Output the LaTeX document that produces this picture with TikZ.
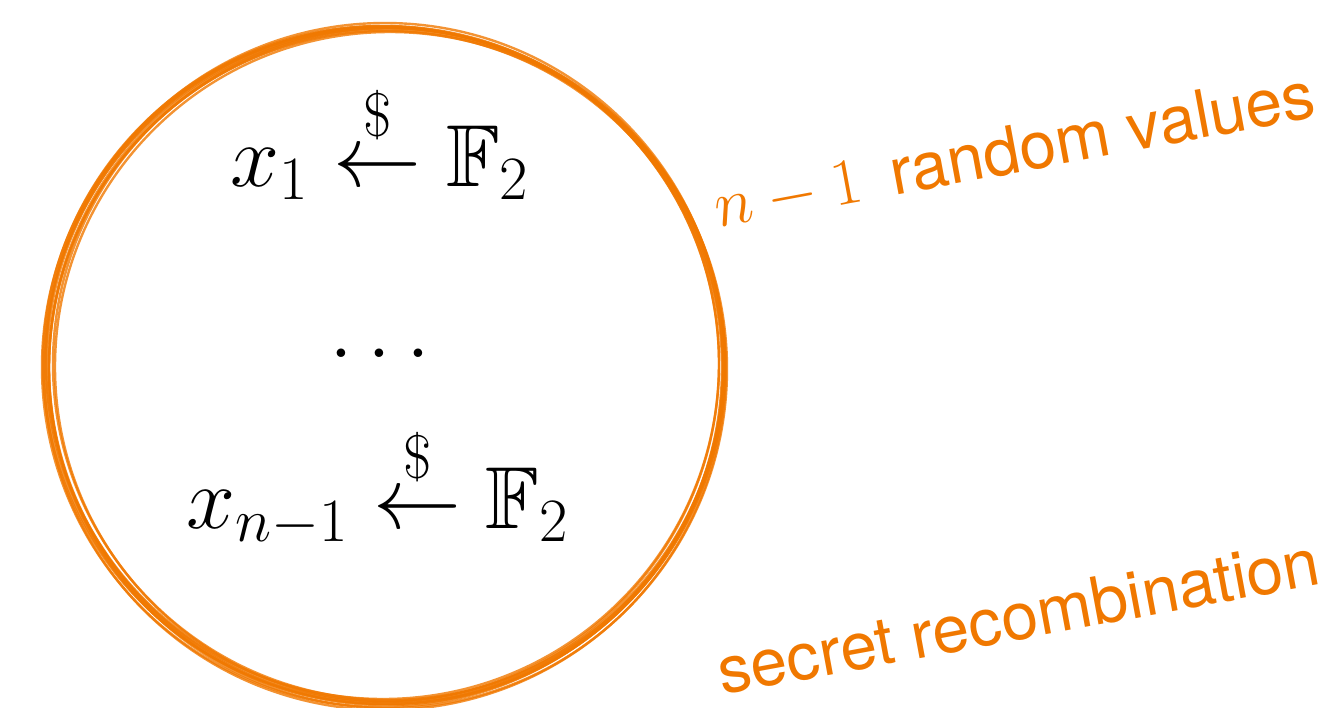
\documentclass[tikz,border=0pt]{standalone}
\usepackage{fix-cm}
\usepackage{amsmath,amssymb}
\usepackage{fontspec}
\setsansfont{TeX Gyre Heros}
\usepackage{xcolor}
\usepackage{tikz}

\definecolor{sketchorange}{RGB}{240,120,0}
\tikzset{
  sketch/.style={draw=sketchorange, line width=1.2pt, opacity=0.8},
  row/.style={font=\fontsize{44}{52}\selectfont, anchor=base},
  remark/.style={font=\sffamily\fontsize{33}{40}\selectfont, text=sketchorange, rotate=10.5, anchor=base west},
}

\begin{document}
\begin{tikzpicture}[x=0.5pt, y=-0.5pt, every node/.style={inner sep=0pt}]
  \useasboundingbox (0,0) rectangle (1338,707);
  % hand drawn ring
  \foreach \dx/\dy/\r in {0/0/339, 3/1/338, -2/2/340, 5/-1/336, 1/4/341, -3/-1/338, 6/2/335, 1/-3/339, 2/3/337, 4/4/339, -1/-2/336}
    \draw[sketch] (384+\dx,365+\dy) circle[radius=0.5*\r pt];
  \node[row] (first) at (380,186) {$x_1 \overset{\$}{\leftarrow} \mathbb{F}_2$};
  \node[row] (dots) at (380,357) {$\ldots$};
  \node[row] (last) at (378,528) {$x_{n-1} \overset{\$}{\leftarrow} \mathbb{F}_2$};
  \node[remark] (randlabel) at (718,228) {$n-1$\, random values};
  \node[remark] (reclabel) at (722,695) {secret recombination};
\end{tikzpicture}
\end{document}
